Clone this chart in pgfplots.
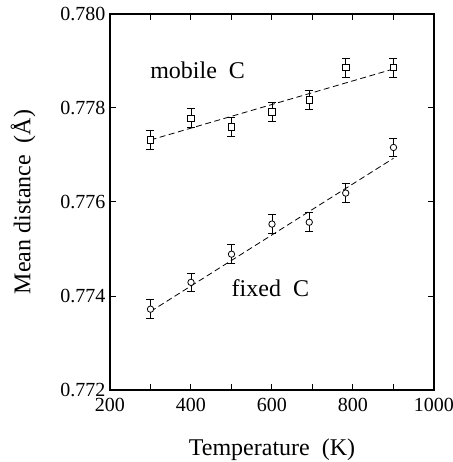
\documentclass[border=0pt]{standalone}
\usepackage{fontspec}
\setmainfont{Liberation Serif}
\usepackage{pgfplots}
\pgfplotsset{compat=1.18}
\newcommand{\tl}[1]{\textrm{\fontsize{20bp}{22bp}\selectfont #1}}
\begin{document}
\begin{tikzpicture}
\path[use as bounding box] (-110bp,-72bp) rectangle (343bp,390bp);
\begin{axis}[
  at={(0,0)}, anchor=south west,
  scale only axis, width=324bp, height=376bp,
  xmin=200, xmax=1000, ymin=0.772, ymax=0.780,
  xtick={200,400,600,800,1000}, minor xtick={300,500,700,900},
  xticklabels={\tl{200},\tl{400},\tl{600},\tl{800},\tl{1000}},
  ytick={0.772,0.774,0.776,0.778,0.780},
  yticklabels={\tl{0.772},\tl{0.774},\tl{0.776},\tl{0.778},\tl{0.780}},
  tick align=inside,
  major tick length=6bp, minor tick length=6bp,
  every tick/.style={line width=1bp, black},
  axis line style={line width=1.2bp},
  scaled y ticks=false,
  yticklabel style={xshift=-1bp},
  xticklabel style={yshift=-5bp},
  xlabel={Temperature\ \ (K)},
  ylabel={Mean distance\ \ (Å)},
  label style={font=\fontsize{24bp}{28bp}\selectfont},
  xlabel style={at={(axis description cs:0.5,-0.1729)}, anchor=base},
  ylabel style={at={(axis description cs:-0.2685,0.5)}, anchor=center},
  clip=false,
]
% fitted lines
\addplot[black, line width=0.8bp, dash pattern=on 6bp off 3.5bp] coordinates {(300,0.77732) (900,0.77883)};
\addplot[black, line width=0.8bp, dash pattern=on 6bp off 3.5bp] coordinates {(300,0.77367) (900,0.77693)};
% mobile C
\addplot[black, only marks, mark=square*, mark size=3.2bp, mark options={fill=white, line width=0.8bp},
  error bars/.cd, y dir=both, y explicit, error bar style={line width=0.9bp},
  error mark options={rotate=90, mark size=4bp, line width=0.9bp}]
  table[x=x, y=y, y error=e] {
x y e
300 0.77732 0.0002
400 0.77778 0.0002
500 0.77760 0.0002
600 0.77792 0.0002
692 0.77817 0.0002
782 0.77886 0.0002
900 0.77886 0.0002
};
% fixed C
\addplot[black, only marks, mark=*, mark size=3.2bp, mark options={fill=white, line width=0.8bp},
  error bars/.cd, y dir=both, y explicit, error bar style={line width=0.9bp},
  error mark options={rotate=90, mark size=4bp, line width=0.9bp}]
  table[x=x, y=y, y error=e] {
x y e
300 0.77372 0.0002
400 0.77429 0.0002
500 0.77489 0.0002
600 0.77553 0.0002
692 0.77557 0.0002
782 0.77619 0.0002
900 0.77716 0.0002
};
\node[anchor=base west, inner sep=0pt, font=\fontsize{24bp}{28bp}\selectfont] at (axis cs:299,0.77863) {mobile\ \ C};
\node[anchor=base west, inner sep=0pt, font=\fontsize{24bp}{28bp}\selectfont] at (axis cs:500,0.77399) {fixed\ \ C};
\end{axis}
\end{tikzpicture}
\end{document}
